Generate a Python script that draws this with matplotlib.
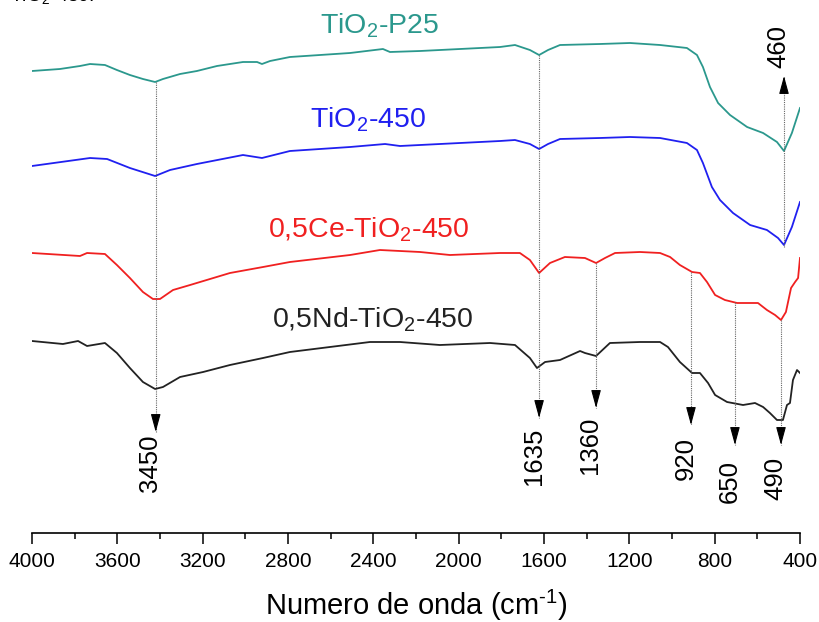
import numpy as np
import matplotlib
matplotlib.use('Agg')
import matplotlib.pyplot as plt
from matplotlib.ticker import MultipleLocator

plt.rcParams['font.family'] = ['Liberation Sans', 'DejaVu Sans']
plt.rcParams['mathtext.fontset'] = 'custom'
plt.rcParams['mathtext.rm'] = 'Liberation Sans'
plt.rcParams['mathtext.it'] = 'Liberation Sans'

# FTIR spectra (arbitrary units, curves already offset)
wn_p25 = [4000, 3869, 3775, 3728, 3658, 3602, 3541, 3480, 3423, 3386,
          3306, 3227, 3133, 3011, 2945, 2922, 2884, 2791, 2509, 2355,
          2322, 2181, 1806, 1736, 1666, 1623, 1581, 1525, 1338, 1197,
          1056, 930, 883, 855, 822, 784, 728, 648, 573, 508,
          475, 438, 400]
t_p25 = [4.62, 4.64, 4.67, 4.69, 4.68, 4.63, 4.58, 4.54, 4.51, 4.54,
         4.59, 4.62, 4.67, 4.71, 4.71, 4.69, 4.72, 4.76, 4.80, 4.84,
         4.81, 4.82, 4.86, 4.88, 4.83, 4.78, 4.83, 4.88, 4.89, 4.90,
         4.88, 4.85, 4.78, 4.66, 4.46, 4.30, 4.18, 4.06, 4.00, 3.91,
         3.82, 4.00, 4.25]

wn_450 = [4000, 3728, 3648, 3541, 3423, 3353, 3227, 3011, 2922, 2791,
          2509, 2345, 2275, 1806, 1736, 1666, 1623, 1581, 1525, 1338,
          1197, 1056, 930, 883, 855, 813, 775, 714, 634, 555,
          503, 475, 438, 400]
t_450 = [3.67, 3.75, 3.74, 3.65, 3.57, 3.63, 3.69, 3.78, 3.75, 3.82,
         3.86, 3.89, 3.87, 3.92, 3.93, 3.89, 3.84, 3.89, 3.94, 3.95,
         3.96, 3.95, 3.90, 3.83, 3.70, 3.46, 3.33, 3.20, 3.08, 3.03,
         2.95, 2.88, 3.06, 3.31]

wn_ce = [4000, 3775, 3742, 3658, 3602, 3541, 3480, 3433, 3400, 3339,
         3259, 3072, 2917, 2791, 2509, 2369, 2181, 2041, 1806, 1713,
         1666, 1623, 1572, 1502, 1408, 1356, 1314, 1267, 1150, 1056,
         1009, 963, 906, 869, 836, 798, 752, 695, 648, 597,
         555, 517, 489, 466, 442, 423, 409, 400]
t_ce = [2.80, 2.77, 2.80, 2.79, 2.68, 2.55, 2.41, 2.34, 2.34, 2.43,
        2.48, 2.60, 2.66, 2.71, 2.78, 2.83, 2.81, 2.78, 2.80, 2.80,
        2.73, 2.60, 2.70, 2.76, 2.75, 2.70, 2.75, 2.80, 2.81, 2.80,
        2.76, 2.68, 2.61, 2.60, 2.51, 2.38, 2.33, 2.30, 2.30, 2.30,
        2.23, 2.18, 2.13, 2.21, 2.45, 2.51, 2.55, 2.75]

wn_nd = [4000, 3855, 3784, 3742, 3658, 3602, 3541, 3480, 3423, 3386,
         3306, 3198, 3072, 2917, 2791, 2416, 2275, 2088, 1853, 1736,
         1666, 1633, 1595, 1525, 1431, 1408, 1356, 1291, 1150, 1056,
         1019, 963, 906, 869, 831, 798, 742, 667, 611, 573,
         541, 508, 480, 461, 447, 433, 414, 400]
t_nd = [1.92, 1.89, 1.92, 1.87, 1.90, 1.80, 1.65, 1.51, 1.44, 1.46,
        1.56, 1.61, 1.68, 1.75, 1.81, 1.91, 1.91, 1.88, 1.90, 1.88,
        1.75, 1.65, 1.71, 1.73, 1.82, 1.80, 1.77, 1.90, 1.91, 1.91,
        1.86, 1.71, 1.60, 1.60, 1.50, 1.38, 1.31, 1.28, 1.30, 1.26,
        1.20, 1.13, 1.13, 1.28, 1.30, 1.53, 1.63, 1.60]

names = ['TiO$_2$-P25', 'TiO$_2$-450', '0,5Ce-TiO$_2$-450', '0,5Nd-TiO$_2$-450']
colors = ['#2b988d', '#2020f0', '#f02020', '#222222']
label_x = [2650, 2697, 2894, 2875]
label_y = [5.00, 4.05, 2.96, 2.06]

# band markers: position, text, line start, arrow tip, text edge
band_pos = [3420, 1623, 1356, 911, 705, 489, 475]
band_txt = ['3450', '1635', '1360', '920', '650', '490', '460']
band_from = [4.51, 4.78, 2.70, 2.61, 2.31, 2.13, 2.86]
band_tip = [1.01, 1.15, 1.25, 1.08, 0.88, 0.88, 4.57]
band_lab = [0.98, 1.05, 1.16, 0.96, 0.73, 0.76, 4.65]

fig = plt.figure(figsize=(8.2, 6.22), dpi=100)
ax = fig.add_axes([32/820, 89/622, 768/820, 533/622])

spectra = [(wn_p25, t_p25), (wn_450, t_450), (wn_ce, t_ce), (wn_nd, t_nd)]
for (wn, t), c, name, lx, ly in zip(spectra, colors, names, label_x, label_y):
    ax.plot(wn, t, color=c, lw=1.3)
    ax.text(lx, ly, name, color=c, fontsize=20.5, ha='left', va='baseline')

for x, s, y0, y1, yl in zip(band_pos, band_txt, band_from, band_tip, band_lab):
    ax.plot([x, x], [y0, y1], color='#666666', lw=0.8, ls=(0, (1, 1)))
    step = 0.12 if y1 < y0 else -0.12
    ax.annotate('', xy=(x, y1), xytext=(x, y1 + step),
                arrowprops=dict(arrowstyle='-|>,head_length=1.1,head_width=0.3',
                                color='black', lw=0.8, mutation_scale=10, shrinkA=0, shrinkB=0))
    va = 'top' if y1 < y0 else 'bottom'
    ax.annotate(s, xy=(x, yl), xytext=(-4, 0), textcoords='offset points',
                rotation=90, ha='center', va=va, fontsize=18.5)

ax.set_xlim(4000, 400)
ax.set_ylim(0, 5.33)
ax.xaxis.set_major_locator(MultipleLocator(400))
ax.xaxis.set_minor_locator(MultipleLocator(200))
ax.tick_params(axis='x', which='major', length=8, width=1.1, labelsize=15, pad=6)
ax.tick_params(axis='x', which='minor', length=4, width=1.1)
ax.set_yticks([])
for side in ['left', 'right', 'top']:
    ax.spines[side].set_visible(False)
ax.spines['bottom'].set_linewidth(1.2)
ax.set_xlabel('Numero de onda (cm$^{\\text{-}1}$)', fontsize=21, labelpad=12)

# caption fragment cut at the top edge of the screenshot
fig.text(0.012, 0.998, 'TiO$_2$-450.', fontsize=14, va='baseline', ha='left')

fig.savefig('out.png', dpi=100)
